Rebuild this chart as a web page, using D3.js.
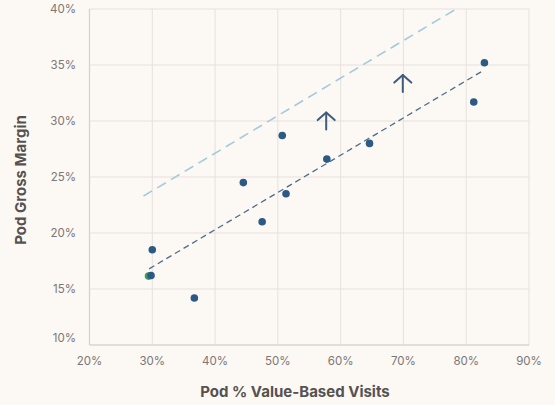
<!DOCTYPE html>
<html>
<head>
<meta charset="utf-8">
<script src="https://cdn.jsdelivr.net/npm/d3@7"></script>
<style>
  html, body { margin: 0; padding: 0; background: #fcf8f4; }
  svg { display: block; }
</style>
</head>
<body>
<svg id="chart" width="555" height="405"></svg>
<script>
// Data (percent values)
const xTicks = [20, 30, 40, 50, 60, 70, 80, 90];
const yTicks = [10, 15, 20, 25, 30, 35, 40];
const podX = [30.0, 29.8, 36.7, 44.5, 47.5, 50.7, 51.3, 57.8, 64.6, 81.2, 82.9];
const podY = [18.5, 16.2, 14.2, 24.5, 21.0, 28.7, 23.5, 26.6, 28.0, 31.7, 35.2];
const highlightX = [29.4];
const highlightY = [16.15];
const trendX = [29.5, 82.7];
const trendY = [16.8, 34.5];
const targetX = [28.6, 78.4];
const targetY = [23.3, 40.0];
const arrowX = [57.7, 69.9];
const arrowTop = [30.75, 34.1];
const arrowBottom = [29.25, 32.6];

const svg = d3.select("#chart");
const margin = { left: 89.5, right: 26, top: 9, bottom: 60 };
const W = 555, H = 405;

const x = d3.scaleLinear().domain([20, 90]).range([margin.left, W - margin.right]);
const y = d3.scaleLinear().domain([10, 40]).range([H - margin.bottom, margin.top]);

const font = "Inter, 'Open Sans', 'DejaVu Sans', sans-serif";

// Gridlines
svg.append("g").selectAll("line.vx").data(xTicks).join("line")
  .attr("x1", d => x(d)).attr("x2", d => x(d))
  .attr("y1", y(10)).attr("y2", y(40))
  .attr("stroke", "#e6e1dd").attr("stroke-width", 1);
svg.append("g").selectAll("line.hy").data(yTicks).join("line")
  .attr("x1", x(20)).attr("x2", x(90))
  .attr("y1", d => y(d)).attr("y2", d => y(d))
  .attr("stroke", "#e6e1dd").attr("stroke-width", 1);

// Axis lines
svg.append("line").attr("x1", x(20)).attr("x2", x(90)).attr("y1", y(10)).attr("y2", y(10))
  .attr("stroke", "#d6d0cb").attr("stroke-width", 1.2);
svg.append("line").attr("x1", x(20)).attr("x2", x(20)).attr("y1", y(10)).attr("y2", y(40))
  .attr("stroke", "#d6d0cb").attr("stroke-width", 1.2);

// Tick labels
const fmt = d => d + "%";
svg.append("g").selectAll("text").data(yTicks).join("text")
  .attr("x", 76).attr("y", d => y(d) + (d === 10 ? -6 : 1))
  .attr("text-anchor", "end").attr("dominant-baseline", "middle")
  .attr("font-family", font).attr("font-size", 11.5).attr("fill", "#7a7775")
  .text(fmt);
svg.append("g").selectAll("text").data(xTicks).join("text")
  .attr("x", d => x(d)).attr("y", 362)
  .attr("text-anchor", "middle").attr("dominant-baseline", "middle")
  .attr("font-family", font).attr("font-size", 11.5).attr("fill", "#7a7775")
  .text(fmt);

// Axis titles
svg.append("text")
  .attr("x", 295).attr("y", 393)
  .attr("text-anchor", "middle").attr("dominant-baseline", "middle")
  .attr("font-family", font).attr("font-size", 15).attr("font-weight", 700)
  .attr("fill", "#555250").text("Pod % Value-Based Visits");
svg.append("text")
  .attr("transform", `translate(22,180) rotate(-90)`)
  .attr("text-anchor", "middle").attr("dominant-baseline", "middle")
  .attr("font-family", font).attr("font-size", 15).attr("font-weight", 700)
  .attr("fill", "#555250").text("Pod Gross Margin");

// Lines
const line = d3.line().x(d => x(d[0])).y(d => y(d[1]));
svg.append("path").datum(d3.zip(targetX, targetY))
  .attr("d", line).attr("fill", "none")
  .attr("stroke", "#a3cbdc").attr("stroke-width", 1.6)
  .attr("stroke-dasharray", "10,6");
svg.append("path").datum(d3.zip(trendX, trendY))
  .attr("d", line).attr("fill", "none")
  .attr("stroke", "#4f6d8c").attr("stroke-width", 1.3)
  .attr("stroke-dasharray", "6,4");

// Points
svg.append("g").selectAll("circle").data(d3.zip(highlightX, highlightY)).join("circle")
  .attr("cx", d => x(d[0])).attr("cy", d => y(d[1])).attr("r", 3.8)
  .attr("fill", "#3f9a5e");
svg.append("g").selectAll("circle").data(d3.zip(podX, podY)).join("circle")
  .attr("cx", d => x(d[0])).attr("cy", d => y(d[1])).attr("r", 3.8)
  .attr("fill", "#2d5a85");

// Arrows
const arrows = d3.zip(arrowX, arrowTop, arrowBottom);
const ag = svg.append("g").attr("stroke", "#3e5d7e").attr("stroke-width", 2)
  .attr("fill", "none").attr("stroke-linecap", "round").attr("stroke-linejoin", "round");
ag.selectAll("line").data(arrows).join("line")
  .attr("x1", d => x(d[0])).attr("x2", d => x(d[0]))
  .attr("y1", d => y(d[1])).attr("y2", d => y(d[2]));
ag.selectAll("path").data(arrows).join("path")
  .attr("d", d => {
    const cx = x(d[0]), ty = y(d[1]);
    return `M${cx - 8.5},${ty + 7.5} L${cx},${ty} L${cx + 8.5},${ty + 7.5}`;
  });
</script>
</body>
</html>
